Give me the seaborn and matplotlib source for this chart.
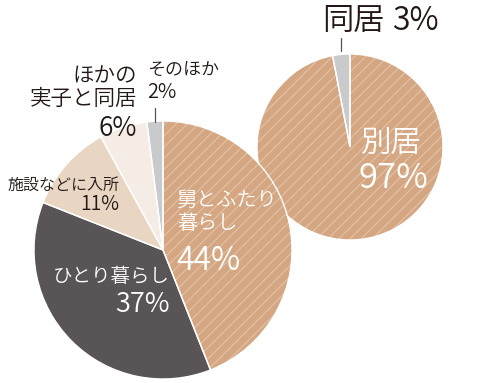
import matplotlib
matplotlib.use("Agg")
import matplotlib.pyplot as plt
import seaborn as sns

# big pie: who the parent lives with (clockwise from 12 o'clock)
big_labels = ["舅とふたり暮らし", "ひとり暮らし", "施設などに入所", "ほかの実子と同居", "そのほか"]
big_values = [44, 37, 11, 6, 2]
big_colors = ["#D4A681", "#595455", "#E8D5C2", "#F5ECE5", "#C9CACC"]
big_hatched = [True, False, False, False, False]

# small pie: separate vs together
small_labels = ["別居", "同居"]
small_values = [97, 3]
small_colors = ["#D4A681", "#C9CACC"]
small_hatched = [True, False]

sns.set_theme(style="white")
plt.rcParams["font.family"] = ["Noto Sans CJK JP", "DejaVu Sans"]
plt.rcParams["font.weight"] = 350
plt.rcParams["hatch.linewidth"] = 0.8

W, H = 500, 383
fig = plt.figure(figsize=(W / 100, H / 100), dpi=100)
ax = fig.add_axes([0, 0, 1, 1])


def draw_pie(values, colors, hatched, center, radius, z):
    # base layer with a faint white hatch, then white wedge edges on top
    wedges, _ = ax.pie(values, colors=colors, startangle=90, counterclock=False,
                       center=center, radius=radius, frame=True,
                       wedgeprops=dict(linewidth=0, edgecolor=(1, 1, 1, 0.33)))
    for w, h in zip(wedges, hatched):
        w.set_zorder(z)
        if h:
            w.set_hatch("///")
    edges, _ = ax.pie(values, colors=["none"] * len(values), startangle=90,
                      counterclock=False, center=center, radius=radius, frame=True,
                      wedgeprops=dict(linewidth=1.0, edgecolor="white", fill=False))
    for e in edges:
        e.set_zorder(z + 0.5)


draw_pie(small_values, small_colors, small_hatched, (350, H - 147), 93, 1)
draw_pie(big_values, big_colors, big_hatched, (163, H - 250), 129, 3)
ax.set_xlim(0, W)
ax.set_ylim(0, H)
ax.set_aspect("equal")
ax.axis("off")

dark = "#231815"
line_c = "#555555"

# small pie labels
ax.text(322, H - 21, small_labels[1], fontsize=22.5, color=dark, ha="left", va="center", zorder=10)
ax.text(392, H - 21, f"{small_values[1]}%", fontsize=23, color=dark, ha="left", va="center", zorder=10)
ax.plot([341, 341], [H - 38, H - 51], color=line_c, lw=0.9, zorder=10)
ax.text(361, H - 143, small_labels[0], fontsize=22, color="white", ha="left", va="center", zorder=10)
ax.text(358, H - 178, f"{small_values[0]}%", fontsize=25, color="white", ha="left", va="center", zorder=10)

# big pie labels
ax.text(177, H - 212, "舅とふたり\n暮らし", fontsize=14.5, color="white", ha="left", va="center",
        linespacing=1.1, zorder=10)
ax.text(176, H - 262, f"{big_values[0]}%", fontsize=23, color="white", ha="left", va="center", zorder=10)
ax.text(170, H - 277, big_labels[1], fontsize=14, color="white", ha="right", va="center", zorder=10)
ax.text(170, H - 304, f"{big_values[1]}%", fontsize=19.5, color="white", ha="right", va="center", zorder=10)
ax.text(119, H - 185, big_labels[2], fontsize=11.5, color=dark, ha="right", va="center", zorder=10)
ax.text(119, H - 205, f"{big_values[2]}%", fontsize=14, color=dark, ha="right", va="center", zorder=10)
ax.text(137, H - 88, "ほかの\n実子と同居", fontsize=15.5, color=dark, ha="right", va="center",
        linespacing=1.05, zorder=10)
ax.text(137, H - 128, f"{big_values[3]}%", fontsize=19, color=dark, ha="right", va="center", zorder=10)
ax.text(147, H - 70, big_labels[4], fontsize=13, color=dark, ha="left", va="center", zorder=10)
ax.text(147, H - 93, f"{big_values[4]}%", fontsize=14.5, color=dark, ha="left", va="center", zorder=10)
ax.plot([155, 155], [H - 108, H - 122], color=line_c, lw=0.9, zorder=10)

fig.savefig("out.png", dpi=100)
